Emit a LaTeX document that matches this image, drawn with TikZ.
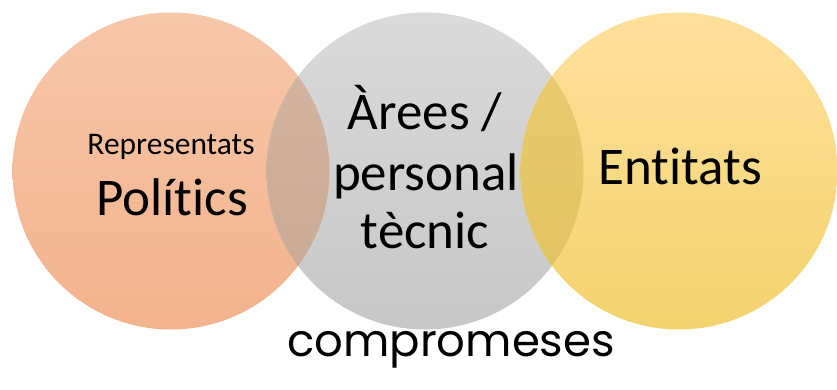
\documentclass[tikz,border=0pt]{standalone}
\usepackage{fontspec}
\setmainfont{Carlito}[Ligatures=NoCommon]
\newfontfamily\handfont{Poppins}
\definecolor{orangeTop}{RGB}{247,199,170}
\definecolor{orangeBot}{RGB}{242,178,140}
\definecolor{greyTop}{RGB}{218,218,218}
\definecolor{greyBot}{RGB}{199,199,199}
\definecolor{yellowTop}{RGB}{254,224,156}
\definecolor{yellowBot}{RGB}{243,211,110}
\definecolor{lmTop}{RGB}{212,182,164}
\definecolor{lmBot}{RGB}{200,168,146}
\definecolor{mrTop}{RGB}{233,205,112}
\definecolor{mrBot}{RGB}{224,193,96}
\begin{document}
\begin{tikzpicture}[x=1pt,y=-1pt,
    big/.style={font=\fontsize{53}{60}\selectfont, anchor=base},
    small/.style={font=\fontsize{31.5}{34}\selectfont, anchor=base}]
    \useasboundingbox (0,0) rectangle (837,390);
    \def\r{158.5}
    % circles
    \shade[top color=orangeTop, bottom color=orangeBot] (171,171) circle (\r);
    \shade[top color=greyTop, bottom color=greyBot] (425,171) circle (\r);
    \shade[top color=yellowTop, bottom color=yellowBot] (679,171) circle (\r);
    % overlaps
    \begin{scope}
    \clip (171,171) circle (\r);
    \shade[top color=lmTop, bottom color=lmBot] (425,171) circle (\r);
    \end{scope}
    \begin{scope}
    \clip (425,171) circle (\r);
    \shade[top color=mrTop, bottom color=mrBot] (679,171) circle (\r);
    \end{scope}
    % labels
    \node[small] (repr) at (171,155) {Representats};
    \node[big] (polit) at (172,215) {Polítics};
    \node[big] (arees) at (425,130) {Àrees /};
    \node[big] (pers) at (426,190) {personal};
    \node[big] (tecn) at (425,248) {tècnic};
    \node[big] (entit) at (680,185) {Entitats};
    \node[anchor=base, font=\handfont\fontsize{45}{50}\selectfont] (comp) at (451,356) {compromeses};
\end{tikzpicture}
\end{document}
